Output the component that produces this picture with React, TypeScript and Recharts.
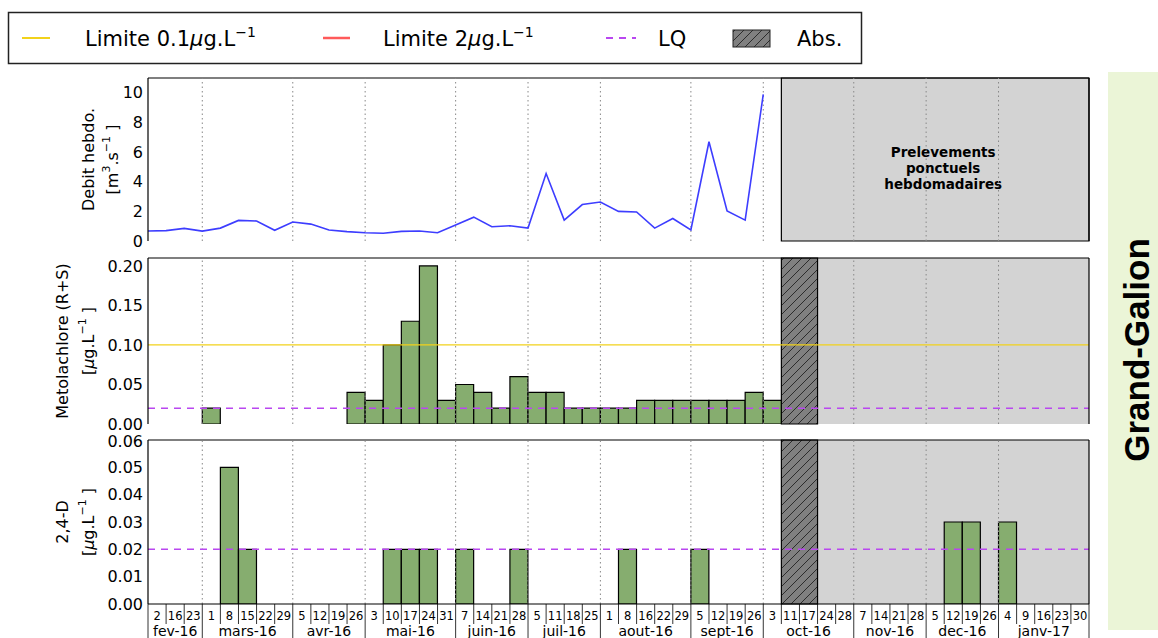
import React from 'react';
import {
  Bar,
  ComposedChart,
  Line,
  ReferenceArea,
  ReferenceLine,
  XAxis,
  YAxis,
} from 'recharts';

// Mois et jours de prelevement (une case = une semaine)
const MONTH_LABELS = [
  'fev-16', 'mars-16', 'avr-16', 'mai-16', 'juin-16', 'juil-16',
  'aout-16', 'sept-16', 'oct-16', 'nov-16', 'dec-16', 'janv-17',
];
const MONTH_DAYS = [
  [2, 16, 23],
  [1, 8, 15, 22, 29],
  [5, 12, 19, 26],
  [3, 10, 17, 24, 31],
  [7, 14, 21, 28],
  [5, 11, 18, 25],
  [1, 8, 16, 22, 29],
  [5, 12, 19, 26],
  [3, 11, 17, 24, 28],
  [7, 14, 21, 28],
  [5, 12, 19, 26],
  [4, 9, 16, 23, 30],
];

// debit hebdomadaire (m3/s), un point par debut de semaine
const DEBIT_HEBDO = [
  0.67, 0.7, 0.85, 0.67, 0.87, 1.39, 1.35, 0.72, 1.28, 1.14, 0.74, 0.63,
  0.56, 0.52, 0.65, 0.67, 0.56, 1.08, 1.61, 0.96, 1.03, 0.87, 4.55, 1.41,
  2.46, 2.63, 2.0, 1.96, 0.87, 1.52, 0.74, 6.7, 2.03, 1.41, 9.9,
];

// concentrations (ug/L), null = pas de detection
const METOLACHLORE = [
  null, null, null, 0.02, null, null, null, null, null, null, null, 0.04,
  0.03, 0.1, 0.13, 0.2, 0.03, 0.05, 0.04, 0.02, 0.06, 0.04, 0.04, 0.02,
  0.02, 0.02, 0.02, 0.03, 0.03, 0.03, 0.03, 0.03, 0.03, 0.04, 0.03,
  null, null, null, null, null, null, null, null, null, null, null, null,
  null, null, null, null, null,
];
const DEUX_4_D = [
  null, null, null, null, 0.05, 0.02, null, null, null, null, null, null,
  null, 0.02, 0.02, 0.02, null, 0.02, null, null, 0.02, null, null, null,
  null, null, 0.02, null, null, null, 0.02, null, null, null, null,
  null, null, null, null, null, null, null, null, null, 0.03, 0.03, null,
  0.03, null, null, null, null,
];

const LIMITE_01 = 0.1;
const LQ = 0.02;
const ABS_START = 35;
const ABS_END = 37;
const PONCTUEL_START = 35;

const DAY_LABELS = MONTH_DAYS.flat().map(String);
const SLOT_COUNT = DAY_LABELS.length;
const MONTH_STARTS: number[] = [];
MONTH_DAYS.forEach((days, i) => {
  MONTH_STARTS.push(i === 0 ? 0 : MONTH_STARTS[i - 1] + MONTH_DAYS[i - 1].length);
});
const MONTH_EDGES = MONTH_STARTS.slice(1);

const debitRows = DEBIT_HEBDO.map((v, i) => ({ x: i, debit: v }));
const metoRows = DAY_LABELS.map((_, i) => ({ slot: i, edge: i, value: METOLACHLORE[i] }));
const d24Rows = DAY_LABELS.map((_, i) => ({ slot: i, edge: i, value: DEUX_4_D[i] }));

const FONT = '"DejaVu Sans", sans-serif';
const GREEN = '#86ad6f';
const BLUE = '#3d3dff';
const GOLD = '#f2d21b';
const VIOLET = '#b947f0';
const GREY_ZONE = '#d3d3d3';
const W = 1158;
const MARGIN_RIGHT = 69;
const Y_AXIS_W = 148;

function AxisTitle({ viewBox, lines, xs }: any) {
  const cy = viewBox ? viewBox.y + viewBox.height / 2 : 0;
  return (
    <g>
      {lines.map((ln: React.ReactNode, i: number) => (
        <text
          key={i}
          x={xs[i]}
          y={cy}
          transform={`rotate(-90 ${xs[i]} ${cy})`}
          textAnchor="middle"
          dominantBaseline="central"
          fontSize={16}
          fontFamily={FONT}
          fill="#000"
        >
          {ln}
        </text>
      ))}
    </g>
  );
}

function PonctuelLabel({ viewBox }: any) {
  if (!viewBox) return null;
  const cx = viewBox.x + viewBox.width / 2 + 8;
  const cy = viewBox.y + viewBox.height / 2 + 8;
  return (
    <text
      x={cx}
      y={cy - 16}
      textAnchor="middle"
      dominantBaseline="central"
      fontWeight="bold"
      fontSize={13.5}
      fontFamily={FONT}
      fill="#000"
    >
      {['Prelevements', 'ponctuels', 'hebdomadaires'].map((t, i) => (
        <tspan key={t} x={cx} dy={i === 0 ? 0 : 16}>
          {t}
        </tspan>
      ))}
    </text>
  );
}

function SlotTick(props: any) {
  const { x, y, payload } = props;
  const i = Number(payload?.value);
  const half = payload && payload.offset ? payload.offset : (W - Y_AXIS_W - MARGIN_RIGHT) / (2 * SLOT_COUNT);
  const left = x - half;
  const m = MONTH_STARTS.indexOf(i);
  return (
    <g>
      <line x1={left} x2={left} y1={y} y2={m >= 0 ? y + 40 : y + 20} stroke="#000" strokeWidth={0.8} />
      {i === SLOT_COUNT - 1 && (
        <line x1={x + half} x2={x + half} y1={y} y2={y + 40} stroke="#000" strokeWidth={0.8} />
      )}
      <text x={x} y={y + 16} textAnchor="middle" fontSize={11.5} fontFamily={FONT} fill="#000">
        {DAY_LABELS[i]}
      </text>
      {m >= 0 && (
        <text
          x={left + MONTH_DAYS[m].length * half}
          y={y + 31.5}
          textAnchor="middle"
          fontSize={14}
          fontFamily={FONT}
          fill="#000"
        >
          {MONTH_LABELS[m]}
        </text>
      )}
    </g>
  );
}

// axes gauche / droite facon matplotlib (graduations vers l'interieur)
function frameAxes(domain: number[], ticks: number[], fmt: (v: number) => string, title: React.ReactElement) {
  return [
    <YAxis
      key="l"
      yAxisId="l"
      type="number"
      domain={domain}
      ticks={ticks}
      allowDataOverflow
      width={Y_AXIS_W}
      tickLine={false}
      tickSize={3}
      tickMargin={2}
      axisLine={{ stroke: '#000', strokeWidth: 1.2 }}
      tick={{ fill: '#000', fontSize: 16, fontFamily: FONT }}
      tickFormatter={fmt}
      label={title}
    />,
    <YAxis
      key="li"
      yAxisId="li"
      type="number"
      domain={domain}
      ticks={ticks}
      allowDataOverflow
      mirror
      tick={false}
      tickSize={5}
      tickLine={{ stroke: '#000' }}
      axisLine={false}
    />,
    <YAxis
      key="r"
      yAxisId="r"
      orientation="right"
      type="number"
      domain={domain}
      ticks={ticks}
      allowDataOverflow
      mirror
      tick={false}
      tickSize={5}
      tickLine={{ stroke: '#000' }}
      axisLine={{ stroke: '#000', strokeWidth: 1.2 }}
    />,
    <ReferenceLine key="top" xAxisId="n" yAxisId="l" y={domain[1]} stroke="#000" strokeWidth={1.2} />,
  ];
}

function gridLines() {
  return MONTH_EDGES.map((b) => (
    <ReferenceLine key={`g${b}`} xAxisId="n" yAxisId="l" x={b} stroke="#888" strokeDasharray="1.5 3" />
  ));
}

const ugTitle = (first: string) => (
  <AxisTitle
    xs={[62, 88]}
    lines={[
      first,
      <>
        [<tspan fontStyle="italic">µ</tspan>g.L<tspan dy={-6} fontSize={11}>−1</tspan>
        <tspan dy={6}> ]</tspan>
      </>,
    ]}
  />
);

function Legend() {
  return (
    <svg width={870} height={70} style={{ position: 'absolute', left: 0, top: 0 }} fontFamily={FONT}>
      <defs>
        <pattern id="hatch" patternUnits="userSpaceOnUse" width="9" height="9">
          <rect width="9" height="9" fill="#808080" />
          <path d="M0,9 L9,0 M-2,2 L2,-2 M7,11 L11,7" stroke="#222" strokeWidth="0.9" />
        </pattern>
      </defs>
      <rect x={8.5} y={12.5} width={853} height={51} fill="#fff" stroke="#222" strokeWidth={1.5} />
      <line x1={22} x2={50} y1={38} y2={38} stroke={GOLD} strokeWidth={2} />
      <text x={85} y={46} fontSize={21} fill="#000">
        Limite 0.1<tspan fontStyle="italic">µ</tspan>g.L<tspan dy={-9} fontSize={14}>−1</tspan>
      </text>
      <line x1={323} x2={350} y1={38} y2={38} stroke="#ff5a5a" strokeWidth={2.5} />
      <text x={383} y={46} fontSize={21} fill="#000">
        Limite 2<tspan fontStyle="italic">µ</tspan>g.L<tspan dy={-9} fontSize={14}>−1</tspan>
      </text>
      <line x1={606} x2={636} y1={38} y2={38} stroke={VIOLET} strokeWidth={2} strokeDasharray="7 6" />
      <text x={658} y={46} fontSize={21} fill="#000">LQ</text>
      <rect x={733} y={30} width={37} height={17} fill="url(#hatch)" stroke="#222" strokeWidth={1} />
      <text x={797} y={46} fontSize={21} fill="#000">Abs.</text>
    </svg>
  );
}

export default function App() {
  return (
    <div style={{ position: 'absolute', left: 0, top: 0, width: W, height: 638, background: '#fff', fontFamily: FONT }}>
      <Legend />

      {/* debit */}
      <div style={{ position: 'absolute', left: 0, top: 70 }}>
        <ComposedChart width={W} height={180} data={debitRows} margin={{ top: 8, right: MARGIN_RIGHT, bottom: 9, left: 0 }}>
          <XAxis
            xAxisId="n"
            type="number"
            dataKey="x"
            domain={[0, SLOT_COUNT]}
            allowDataOverflow
            tick={false}
            tickLine={false}
            height={0}
            axisLine={{ stroke: '#000', strokeWidth: 1.2 }}
          />
          {frameAxes(
            [0, 11],
            [0, 2, 4, 6, 8, 10],
            (v) => String(v),
            <AxisTitle
              xs={[88, 112]}
              lines={[
                'Debit hebdo.',
                <>
                  [m<tspan dy={-6} fontSize={11}>3</tspan>
                  <tspan dy={6}>.s</tspan>
                  <tspan dy={-6} fontSize={11}>−1</tspan>
                  <tspan dy={6}> ]</tspan>
                </>,
              ]}
            />,
          )}
          <ReferenceArea
            xAxisId="n"
            yAxisId="l"
            x1={PONCTUEL_START}
            x2={SLOT_COUNT}
            fill={GREY_ZONE}
            fillOpacity={1}
            stroke="#000"
            strokeWidth={1.2}
            label={<PonctuelLabel />}
          />
          {gridLines()}
          <Line
            xAxisId="n"
            yAxisId="l"
            dataKey="debit"
            stroke={BLUE}
            strokeWidth={1.6}
            dot={false}
            isAnimationActive={false}
          />
        </ComposedChart>
      </div>

      {/* metolachlore */}
      <div style={{ position: 'absolute', left: 0, top: 250 }}>
        <ComposedChart
          width={W}
          height={186}
          data={metoRows}
          barCategoryGap={0}
          barGap={0}
          margin={{ top: 8, right: MARGIN_RIGHT, bottom: 12, left: 0 }}
        >
          <XAxis
            xAxisId="c"
            dataKey="slot"
            type="category"
            interval={0}
            tick={false}
            tickLine={false}
            height={0}
            axisLine={{ stroke: '#000', strokeWidth: 1.2 }}
          />
          <XAxis xAxisId="n" type="number" dataKey="edge" domain={[0, SLOT_COUNT]} allowDataOverflow hide />
          {frameAxes([0, 0.21], [0, 0.05, 0.1, 0.15, 0.2], (v) => v.toFixed(2), ugTitle('Metolachlore (R+S)'))}
          <ReferenceArea xAxisId="n" yAxisId="l" x1={ABS_END} x2={SLOT_COUNT} fill={GREY_ZONE} fillOpacity={1} />
          <ReferenceArea
            xAxisId="n"
            yAxisId="l"
            x1={ABS_START}
            x2={ABS_END}
            fill="url(#hatch)"
            fillOpacity={1}
            stroke="#000"
            strokeWidth={1.2}
          />
          {gridLines()}
          <Bar xAxisId="c" yAxisId="l" dataKey="value" fill={GREEN} stroke="#000" strokeWidth={1.2} isAnimationActive={false} />
          <ReferenceLine xAxisId="n" yAxisId="l" y={LIMITE_01} stroke={GOLD} strokeWidth={1.3} />
          <ReferenceLine xAxisId="n" yAxisId="l" y={LQ} stroke={VIOLET} strokeWidth={1.5} strokeDasharray="7 6" />
        </ComposedChart>
      </div>

      {/* 2,4-D */}
      <div style={{ position: 'absolute', left: 0, top: 432 }}>
        <ComposedChart
          width={W}
          height={206}
          data={d24Rows}
          barCategoryGap={0}
          barGap={0}
          margin={{ top: 8, right: MARGIN_RIGHT, bottom: 0, left: 0 }}
        >
          <XAxis
            xAxisId="c"
            dataKey="slot"
            type="category"
            interval={0}
            height={34}
            tickSize={0}
            tickMargin={0}
            tickLine={false}
            axisLine={{ stroke: '#000', strokeWidth: 1.2 }}
            tick={(p: any) => <SlotTick {...p} />}
          />
          <XAxis xAxisId="n" type="number" dataKey="edge" domain={[0, SLOT_COUNT]} allowDataOverflow hide />
          {frameAxes(
            [0, 0.06],
            [0, 0.01, 0.02, 0.03, 0.04, 0.05, 0.06],
            (v) => v.toFixed(2),
            ugTitle('2,4-D'),
          )}
          <ReferenceArea xAxisId="n" yAxisId="l" x1={ABS_END} x2={SLOT_COUNT} fill={GREY_ZONE} fillOpacity={1} />
          <ReferenceArea
            xAxisId="n"
            yAxisId="l"
            x1={ABS_START}
            x2={ABS_END}
            fill="url(#hatch)"
            fillOpacity={1}
            stroke="#000"
            strokeWidth={1.2}
          />
          {gridLines()}
          <Bar xAxisId="c" yAxisId="l" dataKey="value" fill={GREEN} stroke="#000" strokeWidth={1.2} isAnimationActive={false} />
          <ReferenceLine xAxisId="n" yAxisId="l" y={LQ} stroke={VIOLET} strokeWidth={1.5} strokeDasharray="7 6" />
        </ComposedChart>
      </div>

      {/* station */}
      <div style={{ position: 'absolute', left: 1108, top: 72, width: 50, height: 558, background: '#ebf5d7' }}>
        <svg width={50} height={558}>
          <text
            x={41}
            y={278}
            transform="rotate(-90 41 278)"
            textAnchor="middle"
            fontFamily='"Liberation Sans", Arial, sans-serif'
            fontWeight="bold"
            fontSize={35}
            fill="#000"
          >
            Grand-Galion
          </text>
        </svg>
      </div>
    </div>
  );
}
